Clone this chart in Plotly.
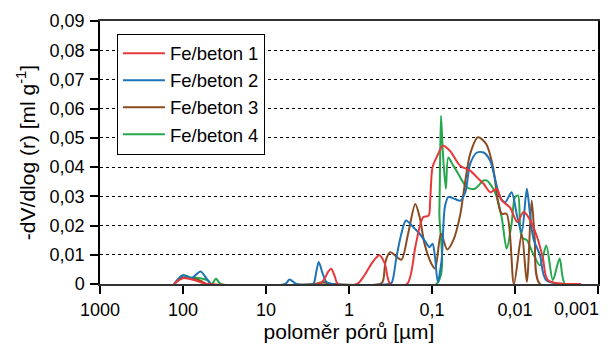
import plotly.graph_objects as go

# ---- data (pore radius in µm, -dV/dlog(r) in ml/g) ----
series_names = ["Fe/beton 1", "Fe/beton 2", "Fe/beton 3", "Fe/beton 4"]

r1 = [128, 110, 100, 85, 70, 57, 50, 2.3, 2.0, 1.8, 1.64, 1.5, 1.36, 0.8, 0.65, 0.52, 0.43, 0.37, 0.318,
      0.2, 0.159, 0.141, 0.127, 0.11, 0.105, 0.0985, 0.0862, 0.074, 0.0608, 0.0459, 0.0347, 0.0287, 0.0239,
      0.0199, 0.0166, 0.0145, 0.0115, 0.0094, 0.0079, 0.0069, 0.0054, 0.0046, 0.0040, 0.0016]
v1 = [0, 0.0015, 0.002, 0.0018, 0.0012, 0.0003, 0, 0, 0.0015, 0.004, 0.0052, 0.003, 0, 0, 0.003, 0.0075,
      0.0098, 0.007, 0, 0, 0.0126, 0.0195, 0.0229, 0.0234, 0.029, 0.040, 0.0439, 0.0473, 0.0456, 0.0405,
      0.0388, 0.0365, 0.0343, 0.0314, 0.0326, 0.0286, 0.0262, 0.0212, 0.0246, 0.0229, 0.016, 0.0087, 0.0013, 0]

r2 = [128, 100, 79, 61.5, 51, 46, 5.9, 5.2, 4.3, 2.7, 2.6, 2.32, 2.1, 1.87, 1.6, 0.33, 0.305, 0.268, 0.234,
      0.206, 0.169, 0.146, 0.123, 0.107, 0.0985, 0.092, 0.0852, 0.0767, 0.07, 0.0636, 0.0527, 0.0459, 0.0397,
      0.0347, 0.0287, 0.0239, 0.0199, 0.0174, 0.0151, 0.0131, 0.0110, 0.0094, 0.0083, 0.0072, 0.0066, 0.0060,
      0.0050, 0.0042, 0.0016]
v2 = [0, 0.003, 0.002, 0.0043, 0.0015, 0, 0, 0.0015, 0, 0, 0.001, 0.0075, 0.004, 0.0007, 0, 0, 0.0005,
      0.0092, 0.0172, 0.0217, 0.0195, 0.0177, 0.0149, 0.0126, 0.0138, 0.0092, 0.0007, 0.008, 0.0263, 0.0297,
      0.0291, 0.0285, 0.0314, 0.0411, 0.045, 0.045, 0.0422, 0.036, 0.0297, 0.028, 0.0314, 0.023, 0.0177,
      0.0326, 0.024, 0.0155, 0.0098, 0.0013, 0]

r3 = [128, 100, 75, 60, 52, 2.6, 2.1, 1.6, 0.42, 0.39, 0.36, 0.318, 0.28, 0.234, 0.194, 0.159, 0.141, 0.123,
      0.102, 0.0917, 0.078, 0.0655, 0.0555, 0.0459, 0.0418, 0.0347, 0.0279, 0.0222, 0.0184, 0.0161, 0.0145,
      0.0126, 0.0103, 0.0083, 0.0072, 0.0063, 0.0058, 0.0050, 0.0016]
v3 = [0, 0.0022, 0.0018, 0.001, 0, 0, 0.0006, 0, 0, 0.001, 0.0081, 0.0109, 0.0098, 0.0083, 0.0172, 0.0274,
      0.0229, 0.0138, 0.007, 0.0053, 0.0172, 0.0118, 0.0149, 0.0234, 0.0309, 0.0445, 0.0502, 0.0479, 0.040,
      0.0286, 0.024, 0.024, 0, 0.0172, 0.0007, 0.0286, 0.016, 0, 0]

r4 = [128, 100, 80, 62, 50, 45, 40, 35, 2.4, 2.0, 1.6, 0.088, 0.0815, 0.078, 0.074, 0.0681, 0.0636, 0.0555,
      0.0508, 0.038, 0.0305, 0.0239, 0.0217, 0.0174, 0.0145, 0.0126, 0.0110, 0.0100, 0.0092, 0.0083, 0.0072,
      0.0062, 0.0050, 0.0042, 0.0035, 0.0029, 0.0025, 0.0016]
v4 = [0, 0.003, 0.0022, 0.002, 0.0012, 0, 0.0018, 0, 0, 0.0006, 0, 0, 0.025, 0.0576, 0.045, 0.0326, 0.0433,
      0.0405, 0.0388, 0.0331, 0.0326, 0.0354, 0.0354, 0.0314, 0.0229, 0.0121, 0.0206, 0.0297, 0.0303, 0.016,
      0.015, 0.011, 0.0064, 0.0132, 0.0013, 0.0087, 0, 0]

x_tickvals = [1000, 100, 10, 1, 0.1, 0.01, 0.001]
x_ticktext = ["1000", "100", "10", "1", "0,1", "0,01", ""]
x_last_label = "0,001"   # drawn right-aligned at the axis end, as in the original
y_tickvals = [0, 0.01, 0.02, 0.03, 0.04, 0.05, 0.06, 0.07, 0.08, 0.09]
y_ticktext = ["0", "0,01", "0,02", "0,03", "0,04", "0,05", "0,06", "0,07", "0,08", "0,09"]

colors = ["#E8383A", "#1F73B7", "#8C4A20", "#25A84C"]
xs = [r1, r2, r3, r4]
ys = [v1, v2, v3, v4]

FONT = "Arial, Liberation Sans, sans-serif"

fig = go.Figure()
for i in [3, 2, 1, 0]:
    fig.add_trace(go.Scatter(
        x=xs[i], y=ys[i], mode="lines", name=series_names[i],
        line=dict(color=colors[i], width=2, shape="spline", smoothing=0.8),
        legendrank=i + 1,
    ))

fig.update_layout(
    width=611, height=344,
    margin=dict(l=100, r=13, t=21, b=60, autoexpand=False),
    paper_bgcolor="white", plot_bgcolor="white",
    font=dict(family=FONT, color="black", size=18),
    showlegend=True,
    legend=dict(
        x=0.034, y=0.952, xanchor="left", yanchor="top",
        bgcolor="white", bordercolor="black", borderwidth=1,
        font=dict(size=18.5, family=FONT), tracegroupgap=0,
        itemwidth=42, traceorder="normal",
    ),
    annotations=[dict(
        text=x_last_label, xref="paper", yref="paper", x=1, y=0,
        xanchor="right", yanchor="middle", xshift=3, yshift=-25,
        showarrow=False, font=dict(size=18, family=FONT, color="black"),
    )],
)

fig.update_xaxes(
    type="log", range=[3, -3], automargin=False,
    tickvals=x_tickvals, ticktext=x_ticktext,
    ticks="outside", ticklen=8, tickwidth=1.5, tickcolor="black",
    ticklabelstandoff=0,
    showline=True, linecolor="#333333", linewidth=2, mirror=True,
    showgrid=False, zeroline=False,
    tickfont=dict(size=18),
    title=dict(text="poloměr pórů [µm]", font=dict(size=21), standoff=5),
)
fig.update_yaxes(
    range=[0, 0.09], automargin=False,
    tickvals=y_tickvals, ticktext=y_ticktext,
    ticks="outside", ticklen=8, tickwidth=1.5, tickcolor="black",
    ticklabelstandoff=2,
    showline=True, linecolor="black", linewidth=1.5, mirror=True,
    showgrid=True, gridcolor="black", gridwidth=1, griddash="dot",
    zeroline=False,
    tickfont=dict(size=18),
    title=dict(text="-dV/dlog (r) [ml g<sup>-1</sup>]", font=dict(size=21), standoff=8),
)

fig.write_html("out.html", config={"displayModeBar": False},
               post_script="document.body.style.margin='0';")
